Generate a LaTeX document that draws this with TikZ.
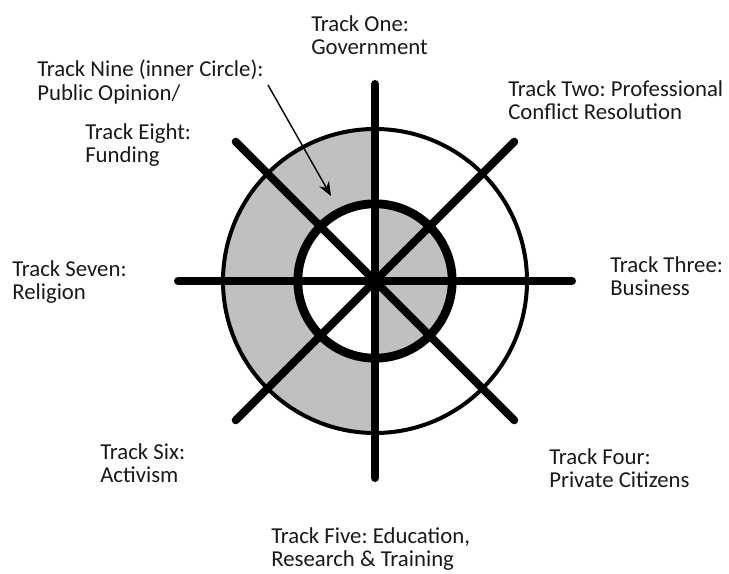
\documentclass[tikz,border=0pt]{standalone}
\usepackage{fontspec}
\setmainfont{Carlito}
\usepackage{xcolor}
\usepackage{tikz}
\usetikzlibrary{arrows.meta}
\definecolor{ringgray}{RGB}{192,192,192}
\definecolor{inktext}{RGB}{25,25,25}
\tikzset{
  tracklabel/.style={inktext, anchor=north west, inner sep=0pt, align=left,
    font=\fontsize{16.2}{17}\selectfont},
  spoke/.style={line width=0.2cm, line cap=round},
  pointer/.style={line width=1pt, -{Stealth[length=10pt,width=8pt]}}
}
\frenchspacing

\begin{document}
\begin{tikzpicture}
    \useasboundingbox (-9.375,-7.3) rectangle (8.85,7.025);
    \coordinate (hub) at (0,0);
    % Shaded half rings
    \fill[ringgray] (90:3.8) arc[start angle=90, end angle=270, radius=3.8]
        -- (270:1.93) arc[start angle=270, end angle=90, radius=1.93] -- cycle;
    \fill[ringgray] (-90:1.93) arc[start angle=-90, end angle=90, radius=1.93] -- cycle;
    % Circles
    \draw[line width=0.1cm] (hub) circle[radius=3.8];
    \draw[line width=0.22cm] (hub) circle[radius=1.93];
    % Spokes
    \foreach \a in {0,45,...,315}
        \draw[spoke] (hub) -- (\a:4.925);
    % Labels
    \node[tracklabel] (one)   at (-1.6,6.65)    {Track One:\\Government};
    \node[tracklabel] (nine)  at (-8.45,5.525)  {Track Nine (inner Circle):\\Public Opinion/};
    \node[tracklabel] (two)   at (3.325,5.025)  {Track Two: Professional\\Conflict Resolution};
    \node[tracklabel] (eight) at (-7.25,3.95)   {Track Eight:\\Funding};
    \node[tracklabel] (seven) at (-9.075,0.525) {Track Seven:\\Religion};
    \node[tracklabel] (three) at (5.875,0.625)  {Track Three:\\Business};
    \node[tracklabel] (six)   at (-6.875,-4.05) {Track Six:\\Activism};
    \node[tracklabel] (four)  at (4.35,-4.175)  {Track Four:\\Private Citizens};
    \node[tracklabel] (five)  at (-2.6,-6.15)   {Track Five: Education,\\Research \& Training};
    % Arrow to inner circle
    \coordinate (ninetail) at (-2.675,4.9);
    \coordinate (ninehead) at (-1.1,2.125);
    \draw[pointer] (ninetail) -- (ninehead);
\end{tikzpicture}
\end{document}
